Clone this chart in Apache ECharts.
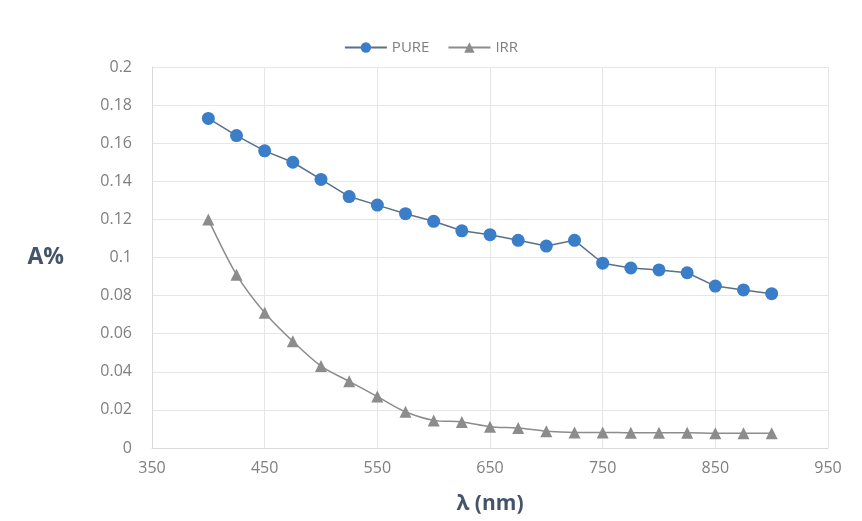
<!DOCTYPE html>
<html>
<head>
<meta charset="utf-8">
<script src="https://cdn.jsdelivr.net/npm/echarts@6/dist/echarts.min.js"></script>
<style>
  html, body { margin: 0; padding: 0; background: #fff; }
  #chart { width: 862px; height: 521px; }
</style>
</head>
<body>
<div id="chart"></div>
<script>
// wavelength (nm)
const wavelengths = [400, 425, 450, 475, 500, 525, 550, 575, 600, 625, 650, 675, 700, 725, 750, 775, 800, 825, 850, 875, 900];
const pure = [0.173, 0.164, 0.156, 0.150, 0.141, 0.132, 0.1275, 0.123, 0.119, 0.114, 0.112, 0.109, 0.106, 0.109, 0.097, 0.0945, 0.0935, 0.092, 0.085, 0.083, 0.081];
const irr = [0.120, 0.091, 0.071, 0.056, 0.043, 0.035, 0.027, 0.019, 0.0145, 0.0137, 0.0112, 0.0105, 0.0088, 0.0082, 0.0082, 0.008, 0.008, 0.008, 0.0078, 0.0078, 0.0078];

const chart = echarts.init(document.getElementById('chart'));

const toPairs = (ys) => wavelengths.map((x, i) => [x, ys[i]]);

const option = {
  backgroundColor: '#fff',
  textStyle: { fontFamily: 'Open Sans, Liberation Sans, sans-serif' },
  legend: {
    top: 35,
    left: 'center',
    itemWidth: 42,
    itemHeight: 13,
    itemGap: 18,
    textStyle: { color: '#7f7f7f', fontSize: 15 },
    data: ['PURE', 'IRR']
  },
  grid: { left: 152, right: 34, top: 67, bottom: 73 },
  xAxis: {
    type: 'value',
    min: 350,
    max: 950,
    interval: 100,
    name: 'λ (nm)',
    nameLocation: 'middle',
    nameGap: 46,
    nameTextStyle: { color: '#44546a', fontSize: 21, fontWeight: 'bold' },
    axisLine: { show: true, lineStyle: { color: '#d9d9d9' } },
    axisTick: { show: false },
    axisLabel: { color: '#7f7f7f', fontSize: 16, margin: 12 },
    splitLine: { show: true, lineStyle: { color: '#e6e6e6' } }
  },
  yAxis: {
    type: 'value',
    min: 0,
    max: 0.2,
    interval: 0.02,
    name: 'A%',
    nameLocation: 'middle',
    nameRotate: 0,
    nameGap: 88,
    nameTextStyle: { color: '#44546a', fontSize: 23, fontWeight: 'bold' },
    axisLine: { show: true, lineStyle: { color: '#d9d9d9' } },
    axisTick: { show: false },
    axisLabel: { color: '#7f7f7f', fontSize: 16, margin: 20 },
    splitLine: { show: true, lineStyle: { color: '#e6e6e6' } }
  },
  series: [
    {
      name: 'PURE',
      type: 'line',
      data: toPairs(pure),
      symbol: 'circle',
      symbolSize: 13,
      itemStyle: { color: '#3a7dc9' },
      lineStyle: { color: '#5a7088', width: 1.5 }
    },
    {
      name: 'IRR',
      type: 'line',
      smooth: 0.3,
      data: toPairs(irr),
      symbol: 'triangle',
      symbolSize: 12,
      itemStyle: { color: '#8c8c8c' },
      lineStyle: { color: '#8c8c8c', width: 1.5 }
    }
  ]
};

chart.setOption(option);
</script>
</body>
</html>
